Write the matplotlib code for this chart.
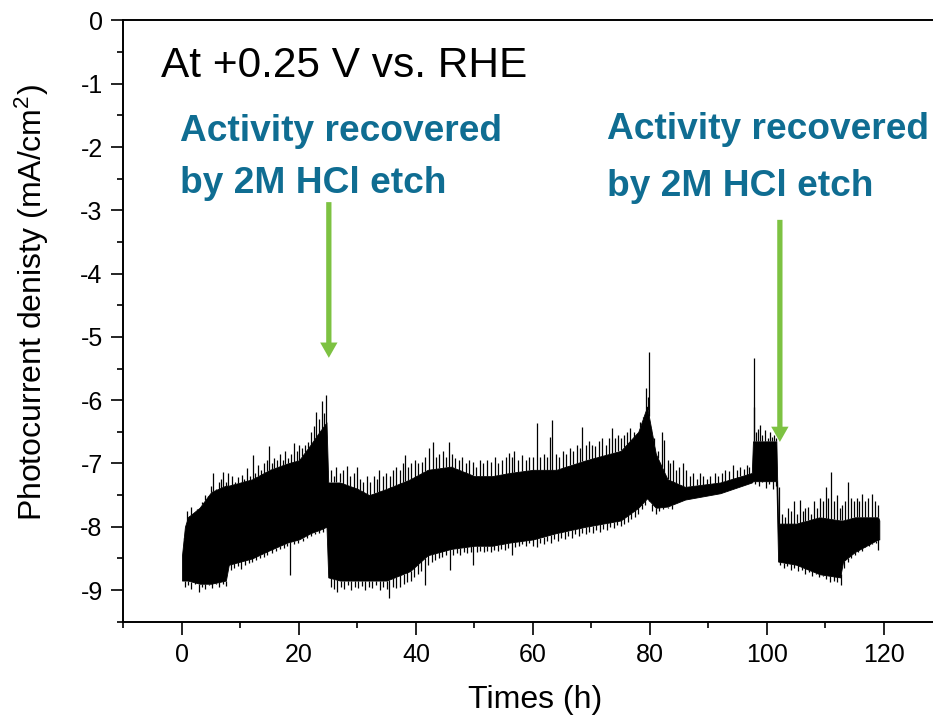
import numpy as np
import matplotlib
matplotlib.use("Agg")
import matplotlib.pyplot as plt
from matplotlib.patches import FancyArrowPatch
from matplotlib.ticker import MultipleLocator

plt.rcParams['font.family'] = ['Liberation Sans', 'DejaVu Sans']
plt.rcParams['mathtext.fontset'] = 'custom'
plt.rcParams['mathtext.rm'] = 'Liberation Sans'
plt.rcParams['mathtext.it'] = 'Liberation Sans:italic'

# ---------------- data ----------------
# core band of the noisy current trace: time (h), upper and lower edge (mA/cm2)
env_t = [0.0, 0.5, 1.0, 3.0, 5.0, 7.5, 8.0, 10.0, 12.0, 15.0, 18.0, 20.0, 22.0,
         23.5, 24.7, 25.0, 27.0, 30.0, 32.0, 35.0, 39.0, 42.0, 46.0, 50.0, 53.0,
         56.0, 60.0, 64.0, 69.0, 75.0, 78.0, 79.5, 81.0, 83.0, 86.0, 92.0, 97.4,
         97.6, 101.6, 101.9, 105.0, 109.0, 112.5, 113.0, 115.0, 119.0, 119.2]
env_upper = [-8.45, -8.0, -7.85, -7.7, -7.45, -7.35, -7.35, -7.3, -7.25, -7.1, -7.0,
             -6.95, -6.7, -6.5, -6.35, -7.3, -7.3, -7.4, -7.5, -7.4, -7.25, -7.1,
             -7.05, -7.2, -7.2, -7.15, -7.1, -7.1, -6.95, -6.8, -6.5, -6.1, -6.85,
             -7.25, -7.37, -7.3, -7.15, -6.65, -6.65, -7.95, -7.95, -7.85, -7.9,
             -7.9, -7.85, -7.85, -7.9]
env_lower = [-8.85, -8.85, -8.85, -8.9, -8.9, -8.85, -8.6, -8.55, -8.5, -8.37, -8.25,
             -8.2, -8.1, -8.05, -8.0, -8.8, -8.85, -8.85, -8.85, -8.85, -8.7, -8.45,
             -8.35, -8.3, -8.3, -8.25, -8.2, -8.1, -8.0, -7.9, -7.7, -7.55, -7.7,
             -7.68, -7.57, -7.47, -7.3, -7.28, -7.28, -8.55, -8.6, -8.75, -8.8,
             -8.55, -8.4, -8.2, -8.2]

# individual spikes above the band (time, value)
spike_up_t = [
    0.3, 0.8, 1.2, 1.5, 2.0, 2.5, 3.0, 3.5, 4.0, 4.5, 5.0, 5.3, 5.8, 6.3, 6.7, 7.0, 7.5, 7.9,
    8.5, 9.0, 9.5, 10.2, 10.6, 11.1, 11.6, 12.1, 12.5, 13.0, 13.5, 14.0, 14.5, 14.9, 15.3,
    15.7, 16.2, 16.7, 17.2, 17.6, 18.1, 18.6, 19.1, 19.6, 20.0, 20.5, 21.0, 21.5, 22.0,
    22.5, 22.9, 23.4, 23.9, 24.2, 24.6,
    25.5, 26.0, 26.4, 27.0, 27.6, 28.2, 28.8, 29.4, 29.9, 30.5, 31.0, 31.6, 32.2, 32.8,
    33.3, 33.7, 34.3, 34.9, 35.5, 36.0, 36.6, 37.2, 37.7, 38.1, 38.6, 39.2, 39.8, 40.4,
    41.0, 41.6, 42.3, 42.9, 43.4, 44.0, 44.6, 45.2, 45.7, 46.2, 46.7, 47.3, 47.9, 48.5,
    49.1, 49.7, 50.3, 50.9, 51.5, 52.1, 52.9, 53.5, 54.1, 54.7, 55.3, 55.9, 56.4, 56.8,
    57.4, 58.2, 58.8, 59.4,
    60.0, 60.6, 61.2, 61.8, 62.4, 62.9, 63.3, 63.9, 64.5, 65.1, 65.7, 66.3, 66.9, 67.5,
    68.0, 68.4, 69.0, 69.6, 70.1, 70.6, 71.2, 71.8, 72.4, 73.0, 73.5, 74.0, 74.6, 75.1,
    75.6, 76.1, 76.6, 77.2, 77.7, 78.3, 78.8, 79.3, 79.6, 79.8, 80.2, 80.7,
    81.3, 82.0, 82.4, 83.0, 83.5, 83.9, 84.5, 85.0, 85.6, 86.2, 86.8, 87.4, 88.0, 88.5,
    89.1, 89.7, 90.3, 91.1, 91.7, 92.3, 92.9, 93.5, 94.2, 94.8, 95.4, 96.0, 96.5, 97.0,
    97.7, 97.8, 98.2, 98.5, 98.8, 99.2, 99.7, 100.1, 100.5, 100.8, 101.2, 101.5,
    102.1, 102.6, 103.1, 103.6, 104.1, 104.6, 105.1, 105.6, 106.1, 106.5, 107.0, 107.5,
    108.0, 108.5, 109.0, 109.5, 110.1, 110.5, 110.9, 111.4, 111.9, 112.4, 112.9, 113.4,
    113.9, 114.4, 114.9, 115.4, 115.8, 116.2, 116.7, 117.2, 117.9, 118.4, 118.9]
spike_up_y = [
    -8.2, -7.75, -7.9, -7.69, -7.8, -7.72, -7.85, -7.61, -7.5, -7.6, -7.35, -7.15, -7.4,
    -7.3, -7.25, -7.13, -7.3, -7.15,
    -7.2, -7.3, -7.22, -7.18, -7.25, -7.07, -7.2, -6.86, -7.15, -7.02, -7.1, -7.0, -6.95,
    -6.73, -7.0, -6.91, -6.95, -6.85, -6.95, -6.8, -6.91, -6.85, -6.68, -6.8, -6.70,
    -6.75, -6.7, -6.66, -6.5, -6.4, -6.18, -6.3, -6.02, -6.2, -5.92,
    -7.1, -7.2, -7.05, -7.15, -7.1, -7.04, -7.2, -7.15, -7.06, -7.25, -7.3, -7.2, -7.3,
    -7.2, -7.25, -7.1, -7.2, -7.15, -7.2, -7.1, -7.05, -7.1, -7.0, -6.86, -7.05, -7.0,
    -6.95, -7.0, -6.97, -6.9, -6.75, -6.66, -6.9, -6.85, -6.8, -6.9, -6.66, -6.85,
    -6.92, -6.95, -6.9, -7.0, -6.95, -6.97, -7.05, -6.95, -7.0, -6.95, -6.98, -6.9,
    -7.0, -6.95, -6.9, -6.84, -6.9, -6.81, -6.95, -6.86, -6.95, -6.9,
    -6.9, -6.36, -6.9, -6.85, -6.9, -6.58, -6.31, -6.85, -6.9, -6.8, -6.85, -6.75, -6.8,
    -6.7, -6.75, -6.42, -6.7, -6.65, -6.7, -6.73, -6.65, -6.6, -6.7, -6.6, -6.44, -6.6,
    -6.55, -6.6, -6.55, -6.5, -6.44, -6.5, -6.55, -6.35, -6.26, -5.80, -5.95, -5.24,
    -6.47, -6.6,
    -6.8, -6.5, -6.63, -6.95, -7.0, -6.94, -7.1, -7.05, -6.99, -7.1, -7.2, -7.15, -7.25,
    -7.15, -7.2, -7.25, -7.2, -7.15, -7.2, -7.15, -7.1, -7.12, -7.02, -7.1, -7.05,
    -7.08, -7.02, -7.05,
    -6.1, -5.33, -6.5, -6.45, -6.39, -6.55, -6.47, -6.6, -6.5, -6.58, -6.55, -6.6,
    -7.37, -7.8, -7.85, -7.7, -7.75, -7.6, -7.8, -7.57, -7.75, -7.7, -7.68, -7.8, -7.6,
    -7.7, -7.54, -7.6, -7.37, -7.55, -7.13, -7.6, -7.5, -7.7, -7.65, -7.6, -7.29,
    -7.55, -7.6, -7.55, -7.6, -7.49, -7.6, -7.55, -7.49, -7.6, -7.65]

# individual spikes below the band (time, value)
spike_dn_t = [
    0.5, 1.0, 1.6, 2.2, 2.9, 3.4, 4.0, 4.6, 5.2, 5.8, 6.4, 7.0, 7.5,
    8.3, 8.9, 9.5, 10.1, 10.8, 11.4, 12.0, 12.7, 13.3, 14.0, 14.6, 15.3, 16.0, 16.7,
    17.4, 18.0, 18.5, 19.2, 19.9, 20.6, 21.3, 22.0, 22.7, 23.4, 24.1,
    25.5, 26.0, 26.5, 27.1, 27.7, 28.3, 28.9, 29.5, 30.1, 30.7, 31.3, 31.9, 32.5, 33.1,
    33.8, 34.4, 35.0, 35.4, 36.0, 36.6, 37.3, 37.9, 38.5, 39.1, 39.7, 40.3, 40.9, 41.5,
    42.1, 42.7, 43.3, 43.9, 44.5, 45.1, 45.8, 46.4, 47.0, 47.6, 48.2, 48.8, 49.4, 49.8,
    50.4, 51.0, 51.6, 52.2, 52.8, 53.4, 54.0, 54.6, 55.2, 55.8, 56.4, 57.0, 57.6, 58.2,
    58.8, 59.4,
    60.0, 60.6, 61.2, 61.8, 62.4, 63.0, 63.6, 64.2, 64.8, 65.4, 66.0, 66.6, 67.2, 67.8,
    68.4, 69.0, 69.6, 70.2, 70.8, 71.4, 72.0, 72.6, 73.2, 73.8, 74.4, 75.0, 75.6, 76.2,
    76.8, 77.4, 78.0, 78.6, 79.2, 79.8, 80.4, 81.0, 81.6, 82.3, 83.0, 83.7,
    98.0, 98.6, 99.2, 99.8, 100.4, 101.0, 101.5,
    102.3, 102.9, 103.5, 104.1, 104.7, 105.3, 105.9, 106.5, 107.1, 107.7, 108.3, 108.9,
    109.5, 110.1, 110.8, 111.4, 112.0, 112.6, 113.2, 113.8, 114.4, 115.0, 115.6, 116.2,
    116.8, 117.4, 118.0, 118.6, 119.0]
spike_dn_y = [
    -8.95, -8.92, -8.98, -8.9, -9.03, -8.95, -8.98, -8.92, -8.97, -8.9, -8.95, -8.9, -8.93,
    -8.68, -8.65, -8.62, -8.66, -8.6, -8.58, -8.56, -8.52, -8.5, -8.48, -8.45, -8.42,
    -8.38, -8.35, -8.33, -8.3, -8.76, -8.27, -8.25, -8.22, -8.18, -8.15, -8.12, -8.1,
    -8.08,
    -8.95, -8.98, -9.03, -8.95, -8.98, -8.92, -9.0, -8.95, -8.97, -8.93, -9.0, -8.95,
    -8.97, -8.92, -9.0, -8.95, -8.98, -9.12, -8.95, -8.97, -8.95, -8.9, -8.88, -8.85,
    -8.8, -8.75, -8.7, -8.92, -8.6, -8.55, -8.52, -8.5, -8.48, -8.45, -8.68, -8.45,
    -8.42, -8.45, -8.4, -8.42, -8.4, -8.6, -8.4, -8.38, -8.4, -8.38, -8.4, -8.36, -8.38,
    -8.35, -8.37, -8.33, -8.44, -8.32, -8.3, -8.28, -8.3, -8.26,
    -8.3, -8.32, -8.25, -8.28, -8.22, -8.25, -8.2, -8.22, -8.18, -8.2, -8.15, -8.18,
    -8.12, -8.15, -8.1, -8.12, -8.08, -8.1, -8.05, -8.08, -8.03, -8.05, -8.0, -8.02,
    -7.97, -7.98, -7.95, -7.92, -7.88, -7.85, -7.8, -7.72, -7.65, -7.6, -7.75, -7.8,
    -7.75, -7.72, -7.7, -7.72,
    -7.33, -7.35, -7.3, -7.38, -7.33, -7.4, -7.35,
    -8.6, -8.65, -8.62, -8.68, -8.65, -8.7, -8.68, -8.75, -8.72, -8.78, -8.75, -8.8,
    -8.78, -8.82, -8.87, -8.85, -8.88, -8.92, -8.65, -8.55, -8.5, -8.45, -8.4, -8.38,
    -8.32, -8.3, -8.28, -8.25, -8.37]

y_ticks = [0, -1, -2, -3, -4, -5, -6, -7, -8, -9]
x_ticks = [0, 20, 40, 60, 80, 100, 120]

arrow_x = [25.1, 102.2]
arrow_y_start = [-2.87, -3.15]
arrow_y_end = [-5.33, -6.66]

# ---------------- figure ----------------
W, H = 933, 718
fig = plt.figure(figsize=(W / 100, H / 100), dpi=100)
ax = fig.add_axes([123.5 / W, 96.3 / H, 819 / W, 601.2 / H])
ax.set_xlim(-10, 130)
ax.set_ylim(-9.5, 0)

env_t_a = np.array(env_t)
up_a = np.array(env_upper)
lo_a = np.array(env_lower)
ax.fill_between(env_t_a, lo_a, up_a, color='black', lw=0.6)

su_t = np.array(spike_up_t)
ax.vlines(su_t, np.interp(su_t, env_t_a, up_a), spike_up_y, color='black', lw=0.9)
sd_t = np.array(spike_dn_t)
ax.vlines(sd_t, spike_dn_y, np.interp(sd_t, env_t_a, lo_a), color='black', lw=0.9)

# axes styling
ax.spines['right'].set_visible(False)
for s in ['left', 'bottom', 'top']:
    ax.spines[s].set_linewidth(1.4)
ax.set_yticks(y_ticks)
ax.set_yticklabels([str(v) for v in y_ticks])
ax.set_xticks(x_ticks)
ax.set_xticklabels([str(v) for v in x_ticks])
ax.yaxis.set_minor_locator(MultipleLocator(0.5))
ax.xaxis.set_minor_locator(MultipleLocator(10))
ax.tick_params(which='major', direction='out', length=9, width=1.2, labelsize=18, pad=6)
ax.tick_params(which='minor', direction='out', length=4.5, width=1.2)
ax.tick_params(top=False, right=False, which='both')

fig.text(32 / W, 1 - 303 / H, 'Photocurrent denisty (mA/cm$^2$)', rotation=90,
         ha='center', va='center', fontsize=23)
fig.text(535 / W, 1 - 700 / H, 'Times (h)', ha='center', va='center', fontsize=23)

fig.text(161 / W, 1 - 77 / H, 'At +0.25 V vs. RHE', ha='left', va='baseline',
         fontsize=30.5, color='black')

blue = '#0f6d92'
for x0, b1, b2 in [(180, 141, 193), (607, 139, 196)]:
    fig.text(x0 / W, 1 - b1 / H, 'Activity recovered', ha='left', va='baseline',
             fontsize=26.7, fontweight='bold', color=blue)
    fig.text(x0 / W, 1 - b2 / H, 'by 2M HCl etch', ha='left', va='baseline',
             fontsize=26.7, fontweight='bold', color=blue)

green = '#7dc242'
for xa, ys, ye in zip(arrow_x, arrow_y_start, arrow_y_end):
    arr = FancyArrowPatch((xa, ys), (xa, ye),
                          arrowstyle='simple,head_length=1.1,head_width=1.25,tail_width=0.38',
                          mutation_scale=10, color=green, shrinkA=0, shrinkB=0, lw=0)
    ax.add_patch(arr)

fig.savefig('out.png', dpi=100)
